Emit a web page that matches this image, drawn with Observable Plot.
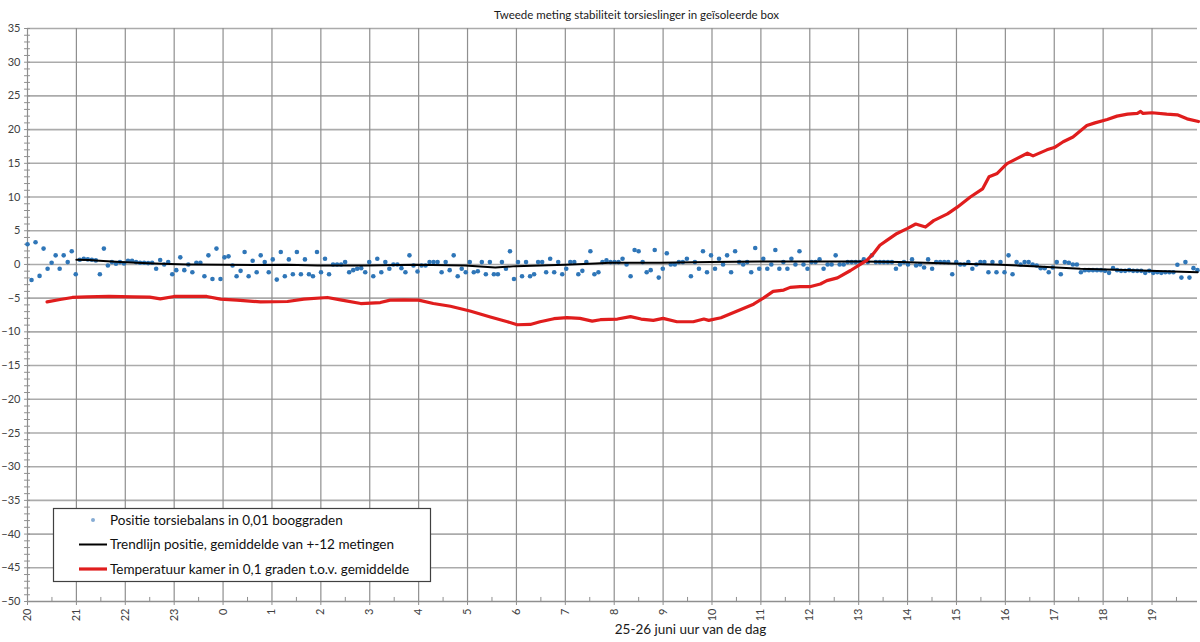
<!DOCTYPE html>
<html>
<head>
<meta charset="utf-8">
<script src="https://cdn.jsdelivr.net/npm/d3@7"></script>
<script src="https://cdn.jsdelivr.net/npm/@observablehq/plot@0.6"></script>
<style>
  html, body { margin: 0; padding: 0; background: #fff; }
  #chart { width: 1200px; height: 642px; }
</style>
</head>
<body>
<div id="chart"></div>
<script>
// ---------- data ----------
const titleText = "Tweede meting stabiliteit torsieslinger in geïsoleerde box";
const xLabelText = "25-26 juni uur van de dag";
const legendLabels = [
  "Positie torsiebalans in 0,01 booggraden",
  "Trendlijn positie, gemiddelde van +-12 metingen",
  "Temperatuur kamer in 0,1 graden t.o.v. gemiddelde"
];
const hourTickLabels = [20,21,22,23,0,1,2,3,4,5,6,7,8,9,10,11,12,13,14,15,16,17,18,19];
const yTicks = [-50,-45,-40,-35,-30,-25,-20,-15,-10,-5,0,5,10,15,20,25,30,35];

// measurement period (hours after 20:00) of the evenly sampled position readings
const positionStart = 0;
const positionEnd = 23.93;

// position of torsion balance (0.01 arc degrees), one reading every ~5 minutes
const positionValues = [
  3.0,-2.3,3.3,-1.7,2.35,-0.65,0.25,1.35,-0.65,1.35,0.35,1.95,-1.45,0.7,0.85,0.75,0.7,0.6,-1.45,2.35,
  -0.15,0.35,0.1,0.35,0.15,0.55,0.55,0.35,0.25,0.25,0.2,0.25,-0.65,0.65,0.0,0.35,-1.45,-0.85,1.05,-0.85,
  0.0,-1.15,0.25,0.25,-1.75,1.35,-2.15,2.35,-2.15,1.05,1.2,-0.15,-1.75,-0.95,1.85,-1.75,0.55,-1.15,1.35,0.35,
  -1.15,0.75,-2.25,1.85,-1.75,0.75,-1.45,1.85,-1.45,0.75,-1.45,-1.75,1.85,-1.15,
  0.85,-1.45,0,0,0,0.35,-1.15,-0.85,-0.65,-0.55,-1.15,0.35,-1.75,0.85,-1.15,0.35,-0.65,0,0,-0.55,
  -1.15,1.35,-0.15,-1.05,-0.15,-0.15,0.35,0.35,0.35,-1.15,0.35,-0.85,1.35,-1.75,-0.65,-1.15,0.35,-1.15,-1.0,0.35,
  -1.45,0.35,-1.45,-1.45,0.35,-0.65,1.95,-2.15,0.35,-1.75,0.35,-1.75,-1.45,0.35,0.35,-1.15,0.85,-1.15,0.35,-1.45,
  -0.65,0.35,0.35,-1.45,-0.95,0.35,1.95,-1.45,-1.15,0.35,0.6,0.35,0.35,0.35,0.85,
  0,-1.75,2.15,1.95,0.35,-1.15,-0.85,2.15,-1.95,-0.65,1.65,0,0,0.35,0.35,0.85,-1.75,0.35,-0.65,1.95,
  -1.15,1.35,-0.65,0.85,0,1.35,-1.15,1.95,0.35,0,0.35,-1.15,2.45,-0.65,0.85,-0.65,0,2.15,-0.65,0.35,
  -0.65,0.85,0,1.95,0,-0.65,0.35,0.35,0.75,-0.65,0,0,1.35,0,0,0.35,0.35,0.35,0.35,0.75,
  0.35,1.35,0.35,0.35,0.35,0.35,0.35,-0.65,0,0.35,0,
  0.75,-0.15,0,-0.45,0.75,-0.65,0.35,0.35,0.35,0.35,-1.45,0.35,0,0,0.35,-0.65,0,0.35,0.35,-1.15,
  0.35,-1.15,0.35,-1.15,1.35,-1.45,0.35,0,0.35,0.35,0,-0.15,-0.55,-0.55,-1.15,-0.45,0.35,-1.45,0.35,0.25,
  0,0,-1.15,-0.85,-0.85,-0.85,-0.85,-0.85,-0.95,-1.25,-0.55,-0.85,-0.95,-0.95,-0.85,-0.95,-0.95,-0.95,-1.25,-0.95,
  -1.25,-1.15,-1.25,-1.15,-1.15,-1.15,-0.05,-1.95,0.35,-1.95,-0.55,-0.85
];

// trend line (moving average of +-12 readings)
const trendTimes = ["21:00","21:15","21:33","21:54","22:35","23:16","23:57","0:37","1:19","1:56","2:55","3:56","4:57","5:34","5:59","7:00","7:37","7:55","8:56","9:58","10:59","12:00","13:02","13:51","14:52","15:54","16:34","17:32","18:37","19:26","19:56"];
const trendValues = [0.7,0.65,0.5,0.35,0.15,0.0,-0.05,-0.1,-0.05,-0.15,-0.15,-0.05,-0.15,-0.45,-0.25,-0.05,0.15,0.25,0.25,0.35,0.45,0.45,0.45,0.35,0.15,-0.05,-0.25,-0.65,-0.85,-1.05,-1.15];

// room temperature (0.1 degrees relative to mean)
const tempTimes = ["20:24","20:40","20:55","21:13","21:40","22:10","22:30","22:43","23:00","23:40","23:57","0:17","0:46","1:19","1:39","2:08","2:24","2:49","3:13","3:25","3:42","4:00","4:18","4:39","5:03","5:28","5:49","6:01","6:17","6:29","6:46","7:02","7:18","7:33","7:43","8:04","8:20","8:33","8:48","9:00","9:17","9:37","9:50","9:56","10:11","10:31","10:51","11:03","11:15","11:28","11:36","11:48","12:00","12:13","12:21","12:34","12:50","13:00","13:10","13:18","13:26","13:35","13:47","14:00","14:10","14:22","14:32","14:49","15:01","15:17","15:32","15:40","15:50","16:02","16:14","16:27","16:34","16:51","17:01","17:11","17:23","17:40","17:50","18:05","18:17","18:30","18:42","18:46","18:49","19:00","19:18","19:31","19:43","19:57"];
const tempValues = [-5.55,-5.2,-4.9,-4.8,-4.75,-4.8,-4.85,-5.1,-4.75,-4.75,-5.15,-5.3,-5.55,-5.5,-5.15,-4.9,-5.25,-5.8,-5.65,-5.3,-5.25,-5.3,-5.8,-6.2,-6.9,-7.8,-8.5,-8.95,-8.9,-8.5,-8.05,-7.9,-8.0,-8.4,-8.2,-8.1,-7.75,-8.1,-8.3,-8.0,-8.5,-8.5,-8.1,-8.3,-7.9,-6.9,-5.9,-5.0,-4.0,-3.8,-3.4,-3.3,-3.3,-2.9,-2.4,-2.0,-0.9,-0.15,0.6,1.6,2.85,3.6,4.6,5.35,6.0,5.55,6.5,7.5,8.5,10.0,11.2,13.0,13.5,14.95,15.7,16.5,16.1,17.0,17.4,18.2,18.9,20.6,21.0,21.5,22.0,22.3,22.4,22.7,22.4,22.5,22.3,22.2,21.6,21.2];

// ---------- helpers ----------
const hoursSince20 = (s) => {
  const [h, m] = s.split(":").map(Number);
  return ((h - 20 + 24) % 24) + m / 60;
};
const nPos = positionValues.length;
const positionData = positionValues.map((v, i) => ({
  t: positionStart + (positionEnd - positionStart) * i / (nPos - 1), v
}));
const trendData = trendTimes.map((s, i) => ({t: hoursSince20(s), v: trendValues[i]}));
const tempData = tempTimes.map((s, i) => ({t: hoursSince20(s), v: tempValues[i]}));

const hourTicks = hourTickLabels.map((_, i) => i);
const halfHourTicks = hourTicks.map(h => h + 0.5).filter(h => h < positionEnd);
const minorYTicks = d3.range(yTicks[0], yTicks[yTicks.length - 1] + 1, 1);

const FONT = "Lato, 'Open Sans', sans-serif";
const gridV = "#8f8f8f";
const gridH = "#ababab";

const svg = Plot.plot({
  width: 1200,
  height: 642,
  marginTop: 28,
  marginRight: 3,
  marginBottom: 41,
  marginLeft: 27,
  x: {domain: [positionStart, positionEnd]},
  y: {domain: [-50, 35]},
  style: {fontFamily: FONT, fontSize: "11px", color: "#404040", background: "#fff"},
  marks: [
    // horizontal gridlines
    Plot.ruleY(yTicks.slice(1), {stroke: gridH, strokeWidth: 1.6}),
    // vertical gridlines
    Plot.ruleX(hourTicks.slice(1), {y1: -50, y2: 35, stroke: gridV, strokeWidth: 1.2}),
    // axis lines
    Plot.ruleX([positionStart], {y1: -50, y2: 35, stroke: gridV, strokeWidth: 1.2}),
    Plot.ruleY([-50], {stroke: gridV, strokeWidth: 1.6}),
    // minor ticks
    Plot.ruleY(minorYTicks, {x1: -0.06, x2: 0.06, stroke: gridV, strokeWidth: 1}),
    Plot.ruleX(halfHourTicks, {y1: -50, y2: -49.4, stroke: gridV, strokeWidth: 1}),
    // axes
    Plot.axisY({ticks: yTicks, tickSize: 0, tickPadding: 7, label: null, fontSize: 11, textAnchor: "end"}),
    Plot.axisX({ticks: hourTicks, tickFormat: (h) => String(hourTickLabels[h]), tickRotate: -90,
                tickSize: 4, tickPadding: 3, label: null, stroke: gridV, fontSize: 11}),
    // data
    Plot.dot(positionData, {x: "t", y: "v", r: 2.3, fill: "#2f76b8", stroke: null}),
    Plot.line(trendData, {x: "t", y: "v", stroke: "#000", strokeWidth: 2}),
    Plot.line(tempData, {x: "t", y: "v", stroke: "#e01d1d", strokeWidth: 3.2, strokeLinejoin: "round"}),
    // texts
    Plot.text([titleText], {frameAnchor: "top", dy: -18, dx: 24, fontSize: 11.5, fill: "#1a1a1a"}),
    Plot.text([xLabelText], {frameAnchor: "bottom", dy: 32, dx: 78, fontSize: 13.5, fill: "#1a1a1a"})
  ]
});

// legend
const s = d3.select(svg);
const lg = s.append("g").attr("font-family", FONT).attr("font-size", 13.5)
  .attr("fill", "#111").attr("text-anchor", "start");
lg.append("rect").attr("x", 53.5).attr("y", 508.5).attr("width", 377).attr("height", 73)
  .attr("fill", "#fff").attr("stroke", "#404040").attr("stroke-width", 1.2);
lg.append("circle").attr("cx", 93).attr("cy", 520).attr("r", 2).attr("fill", "#86acd4");
lg.append("line").attr("x1", 79).attr("x2", 107).attr("y1", 544.5).attr("y2", 544.5)
  .attr("stroke", "#000").attr("stroke-width", 2);
lg.append("line").attr("x1", 79).attr("x2", 107).attr("y1", 569).attr("y2", 569)
  .attr("stroke", "#e01d1d").attr("stroke-width", 3.2);
[520, 544.5, 569].forEach((y, i) => {
  lg.append("text").attr("x", 110).attr("y", y).attr("dy", "0.35em")
    .attr("text-anchor", "start").text(legendLabels[i]);
});

document.getElementById("chart").appendChild(svg);
</script>
</body>
</html>
